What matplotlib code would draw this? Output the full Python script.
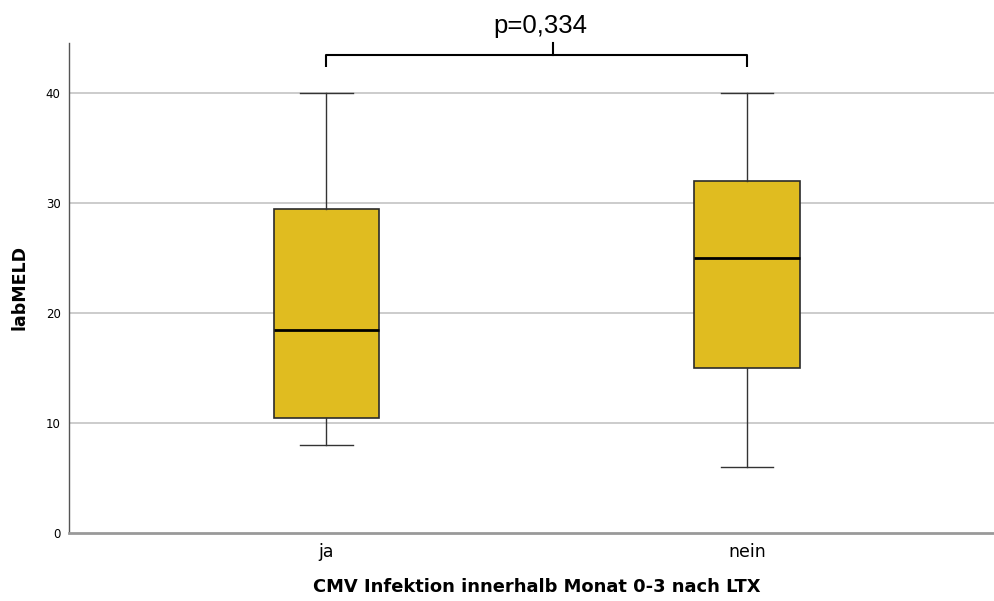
import matplotlib.pyplot as plt

# Data
groups = ['ja', 'nein']
mins = [8, 6]
q1s = [10.5, 15]
medians = [18.5, 25]
q3s = [29.5, 32]
maxs = [40, 40]
yticks = [0, 10, 20, 30, 40]
p_text = 'p=0,334'

stats = []
for g, lo, q1, med, q3, hi in zip(groups, mins, q1s, medians, q3s, maxs):
    stats.append({'label': g, 'whislo': lo, 'q1': q1, 'med': med,
                  'q3': q3, 'whishi': hi, 'fliers': []})

fig = plt.figure(figsize=(9.94, 6.01), dpi=100)
ax = fig.add_axes([0.0694, 0.1131, 0.9306, 0.8154])

# grid behind boxes
for t in yticks[1:]:
    ax.axhline(t, color='#c4c4c4', linewidth=1.2, zorder=0)

ax.bxp(stats, positions=[0, 1], widths=0.25, patch_artist=True,
       showfliers=False,
       boxprops=dict(facecolor='#e0bc20', edgecolor='#2b2b2b', linewidth=1.2),
       medianprops=dict(color='black', linewidth=2),
       whiskerprops=dict(color='#333333', linewidth=1),
       capprops=dict(color='#333333', linewidth=1),
       capwidths=0.124, zorder=2)

ax.set_xlim(-0.612, 1.587)
ax.set_ylim(0, 44.55)
ax.set_yticks(yticks)
ax.set_xticks([0, 1])
ax.set_xticklabels(groups, fontsize=12.5)
ax.tick_params(axis='y', length=0, labelsize=8.5, pad=6)
ax.tick_params(axis='x', length=0, pad=7)

for s in ['top', 'right']:
    ax.spines[s].set_visible(False)
ax.spines['left'].set_color('#555555')
ax.spines['left'].set_linewidth(1)
ax.spines['bottom'].set_color('#999999')
ax.spines['bottom'].set_linewidth(2)

ax.set_ylabel('labMELD', fontsize=12.5, fontweight='bold')
ax.yaxis.set_label_coords(-0.0437, 0.5)
ax.set_xlabel('CMV Infektion innerhalb Monat 0-3 nach LTX', fontsize=12.9,
              fontweight='bold')
ax.xaxis.set_label_coords(0.506, -0.091)

# significance bracket
y_br, y_tick = 43.45, 42.4
ax.plot([0, 0, 1, 1], [y_tick, y_br, y_br, y_tick], color='black',
        linewidth=1.5, clip_on=False, solid_capstyle='butt')
ax.plot([0.539, 0.539], [y_br, 44.55], color='black', linewidth=1.5,
        clip_on=False)
ax.text(0.509, 45.45, p_text, ha='center', va='baseline', fontsize=18.5,
        family='Liberation Sans')

fig.savefig('out.png', dpi=100)
